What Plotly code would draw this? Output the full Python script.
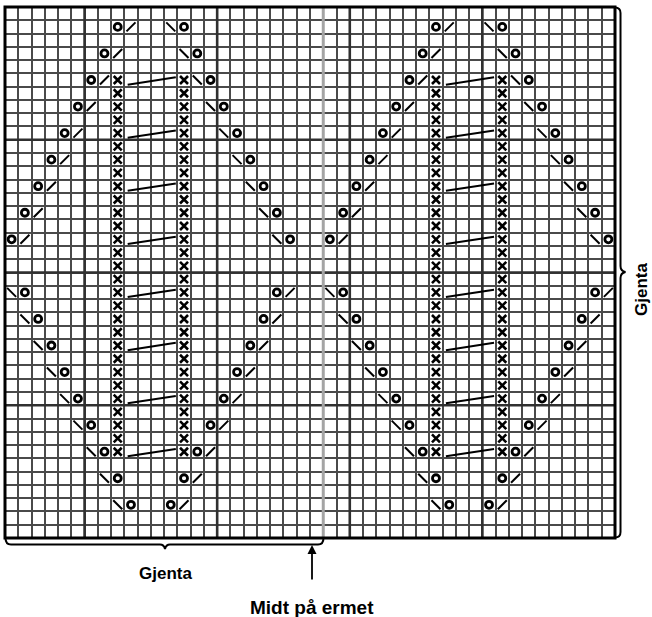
import plotly.graph_objects as go

N_COLS = 46
N_ROWS = 40
REPEAT = 24

# Pattern for one 24-stitch repeat (row index counted from the top, column index within repeat)
yo_rows = [1, 1, 3, 3, 5, 5, 7, 7, 9, 9, 11, 11, 13, 13, 15, 15, 17, 17,
           21, 21, 23, 23, 25, 25, 27, 27, 29, 29, 31, 31, 33, 33, 35, 35, 37, 37]
yo_cols = [8, 13, 7, 14, 6, 15, 5, 16, 4, 17, 3, 18, 2, 19, 1, 20, 0, 21,
           1, 20, 2, 19, 3, 18, 4, 17, 5, 16, 6, 15, 7, 14, 8, 13, 9, 12]

slash_rows = [1, 3, 5, 7, 9, 11, 13, 15, 17, 21, 23, 25, 27, 29, 31, 33, 35, 37]
slash_cols = [9, 8, 7, 6, 5, 4, 3, 2, 1, 21, 20, 19, 18, 17, 16, 15, 14, 13]

bslash_rows = [1, 3, 5, 7, 9, 11, 13, 15, 17, 21, 23, 25, 27, 29, 31, 33, 35, 37]
bslash_cols = [12, 13, 14, 15, 16, 17, 18, 19, 20, 0, 1, 2, 3, 4, 5, 6, 7, 8]

twist_cols = [8, 13]
twist_rows = [5, 6, 7, 8, 9, 10, 11, 12, 13, 14, 15, 16, 17, 18, 19, 20, 21, 22, 23,
              24, 25, 26, 27, 28, 29, 30, 31, 32, 33]

cable_rows = [5, 9, 13, 17, 21, 25, 29, 33]

thick_v = [6, 16, 26, 36]
thick_h = [10, 20, 30]
centre_col = 24

label_repeat = "Gjenta"
label_centre = "Midt på ermet"


def tile(rows, cols):
    xs, ys = [], []
    for k in range(2):
        for r, c in zip(rows, cols):
            cc = c + REPEAT * k
            if cc < N_COLS:
                xs.append(cc + 0.5)
                ys.append(r + 0.5)
    return xs, ys


fig = go.Figure()

x, y = tile(yo_rows, yo_cols)
fig.add_trace(go.Scatter(x=x, y=y, mode="markers", hoverinfo="skip",
                         marker=dict(symbol="circle-open", size=7, color="black",
                                     line=dict(width=2.8, color="black"))))

x, y = tile(slash_rows, slash_cols)
fig.add_trace(go.Scatter(x=x, y=y, mode="markers", hoverinfo="skip",
                         marker=dict(symbol="line-ne", size=9, color="black",
                                     line=dict(width=2, color="black"))))

x, y = tile(bslash_rows, bslash_cols)
fig.add_trace(go.Scatter(x=x, y=y, mode="markers", hoverinfo="skip",
                         marker=dict(symbol="line-nw", size=9, color="black",
                                     line=dict(width=2, color="black"))))

tr, tc = [], []
for c in twist_cols:
    for r in twist_rows:
        tr.append(r)
        tc.append(c)
x, y = tile(tr, tc)
fig.add_trace(go.Scatter(x=x, y=y, mode="markers", hoverinfo="skip",
                         marker=dict(symbol="x-thin-open", size=8, color="black",
                                     line=dict(width=2.6, color="black"))))

# cable lines between the two twisted columns
cx, cy = [], []
for k in range(2):
    left = twist_cols[0] + 1 + REPEAT * k
    right = twist_cols[1] + REPEAT * k
    if right >= N_COLS:
        continue
    for r in cable_rows:
        cx += [left + 0.25, right - 0.12, None]
        cy += [r + 0.85, r + 0.3, None]
fig.add_trace(go.Scatter(x=cx, y=cy, mode="lines", hoverinfo="skip",
                         line=dict(color="black", width=2)))

shapes = []
for v in thick_v:
    shapes.append(dict(type="line", xref="x", yref="y", x0=v, x1=v, y0=0, y1=N_ROWS,
                       line=dict(color="#303030", width=2.6), layer="between"))
for h in thick_h:
    shapes.append(dict(type="line", xref="x", yref="y", x0=0, x1=N_COLS, y0=h, y1=h,
                       line=dict(color="#303030", width=2.6), layer="between"))
shapes.append(dict(type="line", xref="x", yref="y", x0=centre_col, x1=centre_col, y0=0, y1=N_ROWS,
                   line=dict(color="#a4a4a4", width=3), layer="between"))
shapes.append(dict(type="rect", xref="paper", yref="paper", x0=0, x1=1, y0=0, y1=1,
                   line=dict(color="black", width=3), layer="above"))

# decorations in pixel positions converted to paper coordinates
W, H = 652, 617
ML, MR, MT, MB = 5, 37, 7, 79
PW, PH = W - ML - MR, H - MT - MB


def px(xp):
    return (xp - ML) / PW


def py(yp):
    return 1 - (yp - MT) / PH


def path(points):
    s = ""
    for p in points:
        if p[0] == "M" or p[0] == "L":
            s += f"{p[0]} {px(p[1])} {py(p[2])} "
        elif p[0] == "Q":
            s += f"Q {px(p[1])} {py(p[2])} {px(p[3])} {py(p[4])} "
    return s


# bottom brace
bot = path([("M", 5.5, 538), ("Q", 5.5, 544.5, 11, 544.5), ("L", 160, 544.5),
            ("Q", 164, 544.5, 165, 549), ("Q", 166, 544.5, 170, 544.5),
            ("L", 318, 544.5), ("Q", 323.5, 544.5, 323.5, 538)])
shapes.append(dict(type="path", xref="paper", yref="paper", path=bot,
                   line=dict(color="black", width=2)))
# right brace
rgt = path([("M", 615, 7.5), ("Q", 620.5, 7.5, 620.5, 13), ("L", 620.5, 266),
            ("Q", 620.5, 271, 625.5, 272), ("Q", 620.5, 273, 620.5, 278),
            ("L", 620.5, 532), ("Q", 620.5, 537.5, 615, 537.5)])
shapes.append(dict(type="path", xref="paper", yref="paper", path=rgt,
                   line=dict(color="black", width=2)))

FONT = dict(family="Liberation Sans, Arial", size=17, color="black")
annotations = [
    dict(x=px(165), y=py(573), xref="paper", yref="paper", text="<b>" + label_repeat + "</b>",
         showarrow=False, font=FONT, xanchor="center", yanchor="middle"),
    dict(x=px(641), y=py(290), xref="paper", yref="paper", text="<b>" + label_repeat + "</b>",
         showarrow=False, textangle=-90, font=FONT, xanchor="center", yanchor="middle"),
    dict(x=px(312), y=py(607), xref="paper", yref="paper", text="<b>" + label_centre + "</b>",
         showarrow=False, font=dict(family="Liberation Sans, Arial", size=19, color="black"),
         xanchor="center", yanchor="middle"),
    dict(x=px(312), y=py(545), xref="paper", yref="paper", text="",
         showarrow=True, arrowhead=2, arrowsize=1, arrowwidth=1.8, arrowcolor="black",
         ax=0, ay=36),
]

fig.update_layout(
    width=W, height=H,
    margin=dict(l=ML, r=MR, t=MT, b=MB, pad=0),
    plot_bgcolor="white", paper_bgcolor="white",
    showlegend=False,
    shapes=shapes, annotations=annotations,
    xaxis=dict(range=[0, N_COLS], dtick=1, tick0=0, showgrid=True, gridcolor="#4a4a4a",
               gridwidth=1.5, showticklabels=False, zeroline=False, ticks="",
               showline=False, fixedrange=True),
    yaxis=dict(range=[N_ROWS, 0], dtick=1, tick0=0, showgrid=True, gridcolor="#4a4a4a",
               gridwidth=1.5, showticklabels=False, zeroline=False, ticks="",
               showline=False, fixedrange=True),
)

fig.write_html("out.html", config={"displayModeBar": False},
               post_script="document.body.style.margin='0';document.body.style.overflow='hidden';")
